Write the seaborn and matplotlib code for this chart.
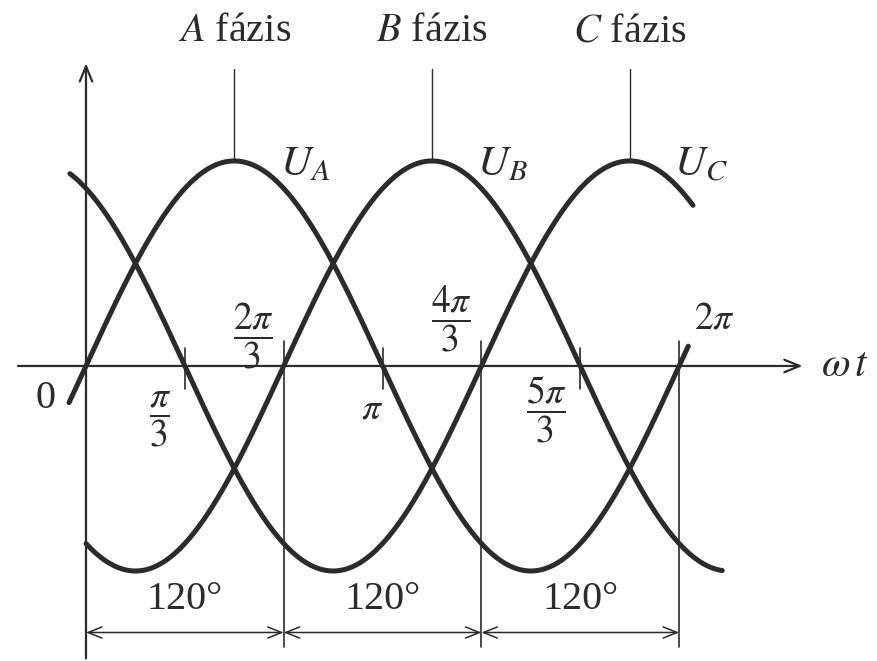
import numpy as np
import pandas as pd
import matplotlib.pyplot as plt
import seaborn as sns

# Fázisok adatai
phase_names = ['A', 'B', 'C']
curve_labels = ['$U_A$', '$U_B$', '$U_C$']
shift_deg = [0, 120, 240]
amplitude = 1.0
curve_start = [-0.18, 0.0, -0.17]
curve_end = [6.38, 6.74, 6.43]

# Osztások a vízszintes tengelyen
major_ticks = [2 * np.pi / 3, 4 * np.pi / 3, 2 * np.pi]
minor_ticks = [np.pi / 3, np.pi, 5 * np.pi / 3]
tick_texts = [r'$\dfrac{\pi}{3}$', r'$\dfrac{2\pi}{3}$', r'$\pi$',
              r'$\dfrac{4\pi}{3}$', r'$\dfrac{5\pi}{3}$', r'$2\pi$']
tick_text_pos = [(0.78, -0.26), (1.77, 0.15), (3.03, -0.21),
                 (3.87, 0.23), (4.88, -0.21), (6.66, 0.23)]
span_texts = ['120°', '120°', '120°']

sns.set_style('white')
plt.rcParams['font.family'] = ['Liberation Serif', 'DejaVu Serif']
plt.rcParams['mathtext.fontset'] = 'stix'

ink = '#2b2b2b'
fig = plt.figure(figsize=(8.78, 6.61), dpi=100)
ax = fig.add_axes([0, 0, 1, 1])
ax.set_xlim(-0.911, 8.39)
ax.set_ylim(-1.439, 1.785)
ax.axis('off')

# Szinuszgörbék
rows = []
for name, sh, a, b in zip(phase_names, shift_deg, curve_start, curve_end):
    t = np.linspace(a, b, 400)
    rows.append(pd.DataFrame({'wt': t, 'u': amplitude * np.sin(t - np.radians(sh)), 'fazis': name}))
data = pd.concat(rows)
sns.lineplot(data=data, x='wt', y='u', units='fazis', estimator=None,
             color=ink, lw=3.6, ax=ax, legend=False, sort=False)

# Tengelyek
ax.annotate('', xy=(7.62, 0), xytext=(-0.75, 0),
            arrowprops=dict(arrowstyle='->,head_length=1.1,head_width=0.45', lw=1.6, color=ink))
ax.annotate('', xy=(0, 1.49), xytext=(0, -1.44),
            arrowprops=dict(arrowstyle='->,head_length=1.1,head_width=0.45', lw=1.6, color=ink))

# Függőleges vonalak és osztások
for xv in major_ticks:
    ax.plot([xv, xv], [0.12, -1.37], color=ink, lw=1.2)
for xv in minor_ticks:
    ax.plot([xv, xv], [0.09, -0.11], color=ink, lw=1.2)

# Fázis feliratok
for name, sh, lab in zip(phase_names, shift_deg, curve_labels):
    peak = np.pi / 2 + np.radians(sh)
    ax.plot([peak, peak], [amplitude, 1.45], color=ink, lw=1.0)
    ax.text(peak, 1.63, f'${name}$ fázis', ha='center', va='center', fontsize=29, color=ink)
    ax.text(peak + 0.75, 0.98, lab, ha='center', va='center', fontsize=31, color=ink)

for txt, (tx, ty) in zip(tick_texts, tick_text_pos):
    ax.text(tx, ty, txt, ha='center', va='center', fontsize=27, color=ink)
ax.text(-0.43, -0.16, '0', ha='center', va='center', fontsize=29, color=ink)
ax.text(8.04, 0.0, r'$\omega\,t$', ha='center', va='center', fontsize=30, color=ink)

# 120°-os méretvonalak
bounds = [0] + major_ticks
for i, txt in enumerate(span_texts):
    x0, x1 = bounds[i], bounds[i + 1]
    ax.annotate('', xy=(x1, -1.30), xytext=(x0, -1.30),
                arrowprops=dict(arrowstyle='<->,head_length=1.0,head_width=0.4', lw=1.1,
                                color=ink, shrinkA=0, shrinkB=0))
    ax.text((x0 + x1) / 2, -1.14, txt, ha='center', va='center', fontsize=29, color=ink)

fig.savefig('out.png', dpi=100, facecolor='white')
